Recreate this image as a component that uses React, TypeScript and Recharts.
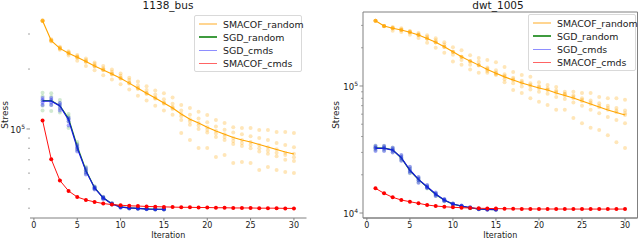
import { ComposedChart, Line, ReferenceArea, Scatter, XAxis, YAxis } from "recharts";

const iterations = [
  1, 2, 3, 4, 5, 6, 7, 8, 9, 10, 11, 12, 13, 14, 15, 16, 17, 18, 19, 20, 21, 22, 23, 24, 25, 26, 27,
  28, 29, 30,
];
const xTicks = [0, 5, 10, 15, 20, 25, 30];

// 1138_bus, stress in thousands
const busSmacofRandomMean = [
  350, 278, 254, 240, 229, 218, 207, 198, 189, 180, 170, 160, 151, 143, 135, 127.5, 119, 112, 107,
  102, 97.7, 94, 90.6, 88, 86, 83.6, 81.2, 78.9, 76.6, 74.9,
];
const busSmacofRandomRuns = [
  [352, 350, 349, 351, 350, 348],
  [282, 280, 278, 277, 275, 279],
  [259, 255, 254, 253, 250, 256],
  [246, 241, 240, 239, 234, 243],
  [235, 230, 229, 228, 220, 232],
  [226, 219, 218, 217, 207, 222],
  [216, 208, 207, 206, 197, 212],
  [207, 199, 198, 197, 186, 202],
  [199, 190, 189, 188, 177, 194],
  [190, 181, 180, 179, 168, 185],
  [181, 171, 170, 169, 158, 176],
  [173, 161, 160, 159, 147, 166],
  [164, 152, 151, 150, 139, 157],
  [156, 144, 143, 142, 131, 149],
  [151, 136, 135, 134, 124, 141],
  [144, 129, 127.5, 126, 118, 134],
  [132, 124, 119, 111, 95.5, 116],
  [127.5, 118, 112, 105, 88, 109],
  [122, 113, 107, 100, 80.3, 104],
  [117.6, 108, 102, 96, 80.3, 99],
  [111, 103, 98, 91, 72.3, 95],
  [107, 99, 94, 88, 74, 91],
  [102, 96, 90, 84, 67.5, 87],
  [101, 94, 88, 82, 68.3, 85],
  [101, 92, 86, 80, 67.5, 83],
  [98.8, 90, 83, 77, 62.2, 80],
  [98.8, 88, 81, 75, 64.4, 78],
  [96.6, 85, 79, 73, 62.2, 76],
  [96.6, 83, 76, 70, 60.8, 74],
  [95.5, 81, 75, 69, 60.1, 72],
];
const busSgdRandomMean = [139, 139, 131, 113, 82, 62, 50.7, 45.1, 42.1, 40.6, 40.1, 39.9, 39.7, 39.5, 39.5];
const busSgdRandomRuns = [
  [152, 146, 139, 131, 124],
  [151, 145, 139, 132, 123],
  [140, 135, 131, 126, 121],
  [119, 116, 113, 109, 101],
  [86, 84, 82, 80, 78],
  [64.5, 63, 62, 61, 59.5],
  [51.5, 51, 50.7, 50.3, 49.8],
  [45.6, 45.3, 45.1, 44.9, 44.6],
  [42.4, 42.2, 42.1, 42, 41.8],
  [40.9, 40.7, 40.6, 40.5, 40.3],
  [40.3, 40.2, 40.1, 40, 39.9],
  [40.1, 40, 39.9, 39.8, 39.7],
  [39.9, 39.8, 39.7, 39.6, 39.5],
  [39.7, 39.6, 39.5, 39.4, 39.4],
  [39.7, 39.6, 39.5, 39.4, 39.4],
];
const busSgdCmdsMean = [138, 138, 130.5, 111, 80.3, 61.5, 50.5, 45, 42, 40.5, 40.1, 39.9, 39.6, 39.5, 39.5];
const busSgdCmdsRuns = [
  [143, 140, 136, 132],
  [143, 140, 136, 132],
  [135, 132, 128, 124],
  [114, 112, 109, 104],
  [83, 81, 79, 77],
  [63.6, 62, 60.5, 59],
  [51.2, 50.7, 50.2, 49.6],
  [45.5, 45.1, 44.8, 44.4],
  [42.3, 42.1, 41.9, 41.7],
  [40.8, 40.6, 40.4, 40.2],
  [40.3, 40.2, 40, 39.9],
  [40.1, 39.9, 39.8, 39.7],
  [39.8, 39.7, 39.6, 39.5],
  [39.7, 39.6, 39.5, 39.4],
  [39.7, 39.6, 39.5, 39.4],
];
const busSmacofCmds = [
  110.4, 70.5, 55.1, 48.8, 45.5, 44.0, 43.0, 42.2, 41.7, 41.4, 41.1, 41.0, 40.8, 40.7, 40.6, 40.5,
  40.4, 40.4, 40.3, 40.3, 40.2, 40.2, 40.1, 40.1, 40.1, 40.0, 40.0, 40.0, 39.9, 39.9,
];
const busYTicks = [40000, 50000, 60000, 70000, 80000, 90000, 100000, 200000, 300000];

// dwt_1005, stress in thousands
const dwtSmacofRandomMean = [
  326.6, 296.8, 284.7, 276, 264.7, 252, 237, 221, 204, 186, 170, 157, 146, 135, 126, 118, 111.5,
  105.6, 101, 96.4, 93, 88, 84.2, 80.4, 76.2, 72.2, 68.3, 64.7, 61.8, 59.1,
];
const dwtSmacofRandomRuns = [
  [327, 326, 327, 326, 327, 326],
  [297, 297, 296, 297, 296, 297],
  [291, 285, 285, 284, 272, 288],
  [285, 276, 276, 275, 266, 280],
  [271, 265, 265, 264, 253, 268],
  [261, 252, 252, 251, 239, 256],
  [251, 237, 237, 236, 219, 244],
  [238, 221, 221, 220, 200, 229],
  [221, 204, 204, 203, 183, 212],
  [202, 186, 186, 185, 156, 176],
  [191, 170, 170, 169, 147, 160],
  [175, 157, 157, 156, 135, 147],
  [166, 146, 146, 145, 127, 155],
  [160, 140, 135, 131, 127, 137],
  [154, 133, 126, 124, 122, 128],
  [141, 124, 118, 113, 107, 120],
  [129, 116, 111, 105, 93, 113],
  [122, 110, 105, 99, 88, 107],
  [118, 105, 100, 94, 80, 102],
  [107, 100, 96, 90, 75, 98],
  [102, 96, 93, 87, 71, 94],
  [98, 92, 88, 82, 65, 90],
  [90, 87, 84, 79, 65, 86],
  [90, 84, 80, 74, 56, 82],
  [88, 80, 76, 70, 51, 78],
  [88, 77, 72, 65, 47, 74],
  [82, 73, 68, 61, 45, 70],
  [80, 70, 65, 57, 41, 67],
  [80, 67, 62, 54, 36, 64],
  [78, 64, 59, 51, 32.5, 61],
];
const dwtSgdRandomMean = [32.6, 32.5, 31.5, 27.1, 21.6, 18.3, 16.0, 14.0, 12.6, 11.75, 11.33, 11.0, 10.74, 10.67, 10.64];
const dwtSgdRandomRuns = [
  [34.0, 33.0, 32.3, 31.2],
  [33.9, 32.9, 32.2, 31.1],
  [32.8, 31.8, 31.1, 30.1],
  [28.4, 27.4, 26.8, 25.9],
  [22.9, 22.0, 21.3, 20.6],
  [19.0, 18.5, 18.0, 17.4],
  [16.5, 16.1, 15.9, 15.6],
  [14.4, 14.1, 13.9, 13.6],
  [12.85, 12.7, 12.55, 12.4],
  [11.9, 11.8, 11.7, 11.6],
  [11.42, 11.36, 11.3, 11.24],
  [11.08, 11.02, 10.97, 10.92],
  [10.8, 10.76, 10.72, 10.68],
  [10.71, 10.68, 10.65, 10.62],
  [10.69, 10.66, 10.63, 10.6],
];
const dwtSgdCmdsMean = [32.3, 32.3, 31.3, 27.3, 21.8, 18.4, 16.1, 14.1, 12.66, 11.77, 11.35, 11.01, 10.75, 10.68, 10.65];
const dwtSgdCmdsRuns = [
  [33.7, 32.8, 32.0, 30.8],
  [33.7, 32.8, 32.0, 30.8],
  [32.6, 31.7, 30.9, 29.9],
  [28.6, 27.6, 26.9, 25.8],
  [23.1, 22.2, 21.4, 20.7],
  [19.2, 18.6, 18.1, 17.3],
  [16.6, 16.2, 15.9, 15.7],
  [14.5, 14.2, 13.9, 13.6],
  [12.9, 12.7, 12.6, 12.4],
  [11.9, 11.8, 11.7, 11.6],
  [11.45, 11.38, 11.32, 11.25],
  [11.1, 11.03, 10.98, 10.93],
  [10.82, 10.77, 10.73, 10.69],
  [10.72, 10.69, 10.66, 10.63],
  [10.7, 10.67, 10.64, 10.61],
];
const dwtSmacofCmds = [
  15.65, 14.29, 13.29, 12.66, 12.27, 11.92, 11.56, 11.35, 11.21, 11.09, 11.01, 10.95, 10.9, 10.86,
  10.83, 10.8, 10.78, 10.77, 10.76, 10.75, 10.75, 10.75, 10.74, 10.74, 10.74, 10.74, 10.74, 10.74,
  10.74, 10.74,
];
const dwtYTicks = [
  10000, 20000, 30000, 40000, 50000, 60000, 70000, 80000, 90000, 100000, 200000, 300000,
];

const legendItems = [
  { label: "SMACOF_random", color: "#ffd591" },
  { label: "SGD_random", color: "#3f9b3f" },
  { label: "SGD_cmds", color: "#8e8eff" },
  { label: "SMACOF_cmds", color: "#ff6464" },
];

const FONT = "'DejaVu Sans', sans-serif";
const TEXT = "#1a1a1a";
const SPINE = "#808080";

type Pt = { x: number; y: number };

const toLine = (values: number[]): Pt[] =>
  values.map((v, i) => ({ x: iterations[i], y: v * 1000 }));

const toRuns = (runs: number[][]): Pt[] =>
  runs.flatMap((col, i) => col.map((v) => ({ x: iterations[i], y: v * 1000 })));

function dotShape(color: string, opacity: number) {
  return (props: any) => (
    <circle cx={props.cx} cy={props.cy} r={2} fill={color} fillOpacity={opacity} />
  );
}

function LogTick({ x, y, payload }: any) {
  const exponent = Math.log10(payload.value);
  const major = Math.abs(exponent - Math.round(exponent)) < 1e-9;
  return (
    <g>
      <line
        x1={x - (major ? 3.5 : 2)}
        x2={x}
        y1={y}
        y2={y}
        stroke={SPINE}
        strokeWidth={major ? 0.9 : 0.7}
      />
      {major && (
        <text x={x - 5} y={y + 3.8} textAnchor="end" fontSize={8.5} fill={TEXT} fontFamily={FONT}>
          10
          <tspan dy={-4} fontSize={6}>
            {Math.round(exponent)}
          </tspan>
        </text>
      )}
    </g>
  );
}

interface PanelProps {
  title: string;
  left: number;
  yAxisWidth: number;
  rightMargin: number;
  yDomain: [number, number];
  yTicks: number[];
  boxed: boolean;
  labelOffset: number;
  titleCenter: number;
  legendLeft: number;
  legendTop: number;
  smacofRandomMean: number[];
  smacofRandomRuns: number[][];
  sgdRandomMean: number[];
  sgdRandomRuns: number[][];
  sgdCmdsMean: number[];
  sgdCmdsRuns: number[][];
  smacofCmds: number[];
}

function StressPanel(p: PanelProps) {
  return (
    <div style={{ position: "absolute", left: p.left, top: 0, width: 320, height: 240 }}>
      <ComposedChart
        width={320}
        height={240}
        margin={{ top: 12, right: p.rightMargin, bottom: 0, left: 0 }}
      >
        <XAxis
          dataKey="x"
          type="number"
          domain={[-0.45, 31.45]}
          allowDataOverflow
          ticks={xTicks}
          interval={0}
          height={22}
          tickSize={2.5}
          tickMargin={1.5}
          axisLine={{ stroke: SPINE, strokeWidth: 1 }}
          tickLine={{ stroke: SPINE }}
          tick={{ fontSize: 8, fill: TEXT, fontFamily: FONT }}
          label={{
            value: "Iteration",
            position: "insideBottom",
            offset: 2,
            fontSize: 8,
            fill: TEXT,
            fontFamily: FONT,
          }}
        />
        <YAxis
          dataKey="y"
          type="number"
          scale="log"
          domain={p.yDomain}
          allowDataOverflow
          ticks={p.yTicks}
          interval={0}
          width={p.yAxisWidth}
          axisLine={false}
          tickLine={false}
          tickSize={0}
          tickMargin={0}
          tick={<LogTick />}
          label={{
            value: "Stress",
            angle: -90,
            position: "insideLeft",
            offset: p.labelOffset,
            fontSize: 9,
            fill: TEXT,
            fontFamily: FONT,
            style: { textAnchor: "middle" },
          }}
        />
        <Scatter
          data={toRuns(p.smacofRandomRuns)}
          dataKey="y"
          shape={dotShape("#ffa500", 0.28)}
          isAnimationActive={false}
        />
        <Line
          data={toLine(p.smacofRandomMean)}
          dataKey="y"
          stroke="#ffa500"
          strokeWidth={1.1}
          dot={false}
          isAnimationActive={false}
        />
        <Scatter
          data={toRuns(p.sgdRandomRuns)}
          dataKey="y"
          shape={dotShape("#2e9a2e", 0.22)}
          isAnimationActive={false}
        />
        <Line
          data={toLine(p.sgdRandomMean)}
          dataKey="y"
          stroke="#1f8a1f"
          strokeWidth={1.2}
          dot={false}
          isAnimationActive={false}
        />
        <Scatter
          data={toRuns(p.sgdCmdsRuns)}
          dataKey="y"
          shape={dotShape("#1010ff", 0.35)}
          isAnimationActive={false}
        />
        <Line
          data={toLine(p.sgdCmdsMean)}
          dataKey="y"
          stroke="#1414e0"
          strokeWidth={1.2}
          dot={false}
          isAnimationActive={false}
        />
        <Line
          data={toLine(p.smacofCmds)}
          dataKey="y"
          stroke="#ff1010"
          strokeWidth={1}
          dot={{ r: 2, fill: "#ff0000", stroke: "none" }}
          isAnimationActive={false}
        />
        {p.boxed && (
          <ReferenceArea
            x1={-0.45}
            x2={31.45}
            y1={p.yDomain[0]}
            y2={p.yDomain[1]}
            fill="none"
            stroke={SPINE}
            strokeWidth={1}
            ifOverflow="visible"
          />
        )}
      </ComposedChart>
      <div
        style={{
          position: "absolute",
          left: p.titleCenter - p.left - 60,
          top: 0,
          width: 120,
          textAlign: "center",
          fontFamily: FONT,
          fontSize: 10.5,
          lineHeight: "11px",
          color: TEXT,
        }}
      >
        {p.title}
      </div>
      <div
        style={{
          position: "absolute",
          left: p.legendLeft - p.left,
          top: p.legendTop,
          width: 108,
          height: 57,
          boxSizing: "border-box",
          border: "1px solid #d9d9d9",
          borderRadius: 2,
          background: "rgba(255,255,255,0.85)",
          fontFamily: FONT,
          fontSize: 9.4,
          color: TEXT,
        }}
      >
        {legendItems.map((item, i) => (
          <div
            key={item.label}
            style={{
              position: "absolute",
              left: 4,
              top: 1.5 + i * 13.2,
              height: 13,
              display: "flex",
              alignItems: "center",
              whiteSpace: "nowrap",
            }}
          >
            <span
              style={{
                display: "inline-block",
                width: 18,
                height: 1.6,
                background: item.color,
                marginRight: 6,
              }}
            />
            {item.label}
          </div>
        ))}
      </div>
    </div>
  );
}

export default function App() {
  return (
    <div style={{ position: "absolute", left: 0, top: 0, width: 640, height: 240, background: "#fff" }}>
      <StressPanel
        title="1138_bus"
        left={0}
        yAxisWidth={30}
        rightMargin={13.5}
        yDomain={[35700, 387000]}
        yTicks={busYTicks}
        boxed={false}
        labelOffset={5}
        titleCenter={168}
        legendLeft={194}
        legendTop={15}
        smacofRandomMean={busSmacofRandomMean}
        smacofRandomRuns={busSmacofRandomRuns}
        sgdRandomMean={busSgdRandomMean}
        sgdRandomRuns={busSgdRandomRuns}
        sgdCmdsMean={busSgdCmdsMean}
        sgdCmdsRuns={busSgdCmdsRuns}
        smacofCmds={busSmacofCmds}
      />
      <StressPanel
        title="dwt_1005"
        left={320}
        yAxisWidth={43}
        rightMargin={2.5}
        yDomain={[9134, 382500]}
        yTicks={dwtYTicks}
        boxed={true}
        labelOffset={16}
        titleCenter={498}
        legendLeft={528}
        legendTop={14}
        smacofRandomMean={dwtSmacofRandomMean}
        smacofRandomRuns={dwtSmacofRandomRuns}
        sgdRandomMean={dwtSgdRandomMean}
        sgdRandomRuns={dwtSgdRandomRuns}
        sgdCmdsMean={dwtSgdCmdsMean}
        sgdCmdsRuns={dwtSgdCmdsRuns}
        smacofCmds={dwtSmacofCmds}
      />
    </div>
  );
}
